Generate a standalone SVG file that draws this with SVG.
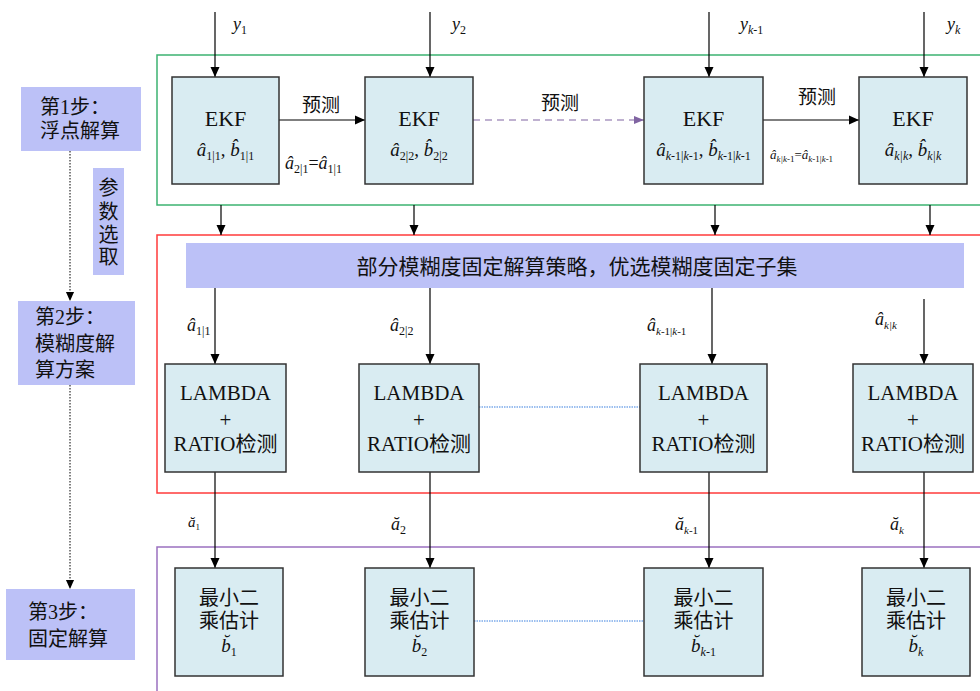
<svg xmlns="http://www.w3.org/2000/svg" width="980" height="691" viewBox="0 0 980 691">
<defs>
<marker id="arr" viewBox="0 0 10 10" refX="10" refY="5" markerWidth="10" markerHeight="10" markerUnits="userSpaceOnUse" orient="auto">
<path d="M0,0.5 L10,5 L0,9.5 Z" fill="#000"/>
</marker>
<marker id="arrP" viewBox="0 0 10 10" refX="10" refY="5" markerWidth="10" markerHeight="10" markerUnits="userSpaceOnUse" orient="auto">
<path d="M0,1 L10,5 L0,9 Z" fill="#8064a2"/>
</marker>
<marker id="arrS" viewBox="0 0 10 10" refX="10" refY="5" markerWidth="9" markerHeight="11" markerUnits="userSpaceOnUse" orient="auto">
<path d="M0,0.5 L10,5 L0,9.5 Z" fill="#000"/>
</marker>
</defs>
<style>
.box{fill:#d9ecf2;stroke:#333;stroke-width:1.5}
.lab{fill:#bcc1f7}
.t{font-family:"Liberation Serif","Noto Sans CJK SC",serif;font-size:21px;fill:#111;text-anchor:middle}
.t20{font-size:20px}
.t22{font-size:22px}
.cj{font-family:"Liberation Serif","Noto Sans CJK SC",serif;font-size:19px;fill:#111}
.st{font-family:"Liberation Serif","Noto Sans CJK SC",serif;font-size:20px;fill:#111}
.m{font-family:"Liberation Serif",serif;font-style:italic;fill:#111}
.s{font-style:normal;font-size:12px}
.sk{font-style:italic;font-size:12px}
.s11{font-size:11px}
.ln{stroke:#000;stroke-width:1.2;fill:none}
</style>
<rect width="980" height="691" fill="#fff"/>
<g id="frames">
<rect x="157" y="55" width="840" height="150" fill="none" stroke="#3cb371" stroke-width="1.5"/>
<rect x="157" y="235" width="840" height="258" fill="none" stroke="#ff3b3b" stroke-width="1.5"/>
<rect x="157" y="547" width="840" height="160" fill="none" stroke="#9b70c0" stroke-width="1.5"/>
</g>
<g id="connectors">
<line class="ln" x1="215" y1="12" x2="215" y2="77" marker-end="url(#arr)"/>
<line class="ln" x1="430" y1="12" x2="430" y2="77" marker-end="url(#arr)"/>
<line class="ln" x1="709" y1="12" x2="709" y2="77" marker-end="url(#arr)"/>
<line class="ln" x1="924" y1="12" x2="924" y2="77" marker-end="url(#arr)"/>
<line class="ln" x1="279" y1="120" x2="365" y2="120" marker-end="url(#arr)"/>
<line x1="473" y1="120" x2="644" y2="120" stroke="#8064a2" stroke-width="1.2" stroke-dasharray="7 5" marker-end="url(#arrP)"/>
<line class="ln" x1="763" y1="120" x2="859" y2="120" marker-end="url(#arr)"/>
<line class="ln" x1="221" y1="205" x2="221" y2="235" marker-end="url(#arr)"/>
<line class="ln" x1="414" y1="205" x2="414" y2="235" marker-end="url(#arr)"/>
<line class="ln" x1="715" y1="205" x2="715" y2="235" marker-end="url(#arr)"/>
<line class="ln" x1="930" y1="205" x2="930" y2="235" marker-end="url(#arr)"/>
<line class="ln" x1="215" y1="288" x2="215" y2="364" marker-end="url(#arr)"/>
<line class="ln" x1="430" y1="288" x2="430" y2="364" marker-end="url(#arr)"/>
<line class="ln" x1="712" y1="288" x2="712" y2="364" marker-end="url(#arr)"/>
<line class="ln" x1="924" y1="299" x2="924" y2="364" marker-end="url(#arr)"/>
<line x1="479" y1="407" x2="640" y2="407" stroke="#3a80e0" stroke-width="1.2" stroke-dasharray="1.5 1"/>
<line class="ln" x1="215" y1="472" x2="215" y2="568" marker-end="url(#arr)"/>
<line class="ln" x1="430" y1="472" x2="430" y2="568" marker-end="url(#arr)"/>
<line class="ln" x1="709" y1="472" x2="709" y2="568" marker-end="url(#arr)"/>
<line class="ln" x1="924" y1="472" x2="924" y2="568" marker-end="url(#arr)"/>
<line x1="474" y1="621" x2="644" y2="621" stroke="#3a80e0" stroke-width="1.2" stroke-dasharray="1.5 1"/>
<line x1="70" y1="151" x2="70" y2="301" stroke="#000" stroke-width="1" stroke-dasharray="1.5 1.5" marker-end="url(#arrS)"/>
<line x1="70" y1="385" x2="70" y2="589" stroke="#000" stroke-width="1" stroke-dasharray="1.5 1.5" marker-end="url(#arrS)"/>
</g>
<g id="conn-labels">
<text class="m" x="233" y="30" font-size="18">y<tspan class="s" dy="4">1</tspan></text>
<text class="m" x="452" y="30" font-size="18">y<tspan class="s" dy="4">2</tspan></text>
<text class="m" x="740" y="30" font-size="18">y<tspan class="sk" dy="4">k</tspan><tspan class="s">-1</tspan></text>
<text class="m" x="947" y="30" font-size="18">y<tspan class="sk" dy="4">k</tspan></text>
<text class="cj" x="302" y="112">预测</text>
<text class="cj" x="541" y="110">预测</text>
<text class="cj" x="798" y="104">预测</text>
<text class="m" x="285" y="169" font-size="18">â<tspan class="s" dy="4">2|1</tspan><tspan font-style="normal" dy="-4">=</tspan>â<tspan class="s" dy="4">1|1</tspan></text>
<text class="m" x="770" y="159" font-size="13">â<tspan font-size="9" dy="3">k|k</tspan><tspan font-size="9" font-style="normal">-1</tspan><tspan font-style="normal" dy="-3">=</tspan>â<tspan font-size="9" dy="3">k</tspan><tspan font-size="9" font-style="normal">-1|</tspan><tspan font-size="9">k</tspan><tspan font-size="9" font-style="normal">-1</tspan></text>
<text class="m" x="187" y="331" font-size="18">â<tspan class="s" dy="4">1|1</tspan></text>
<text class="m" x="390" y="331" font-size="18">â<tspan class="s" dy="4">2|2</tspan></text>
<text class="m" x="647" y="331" font-size="18">â<tspan class="sk s11" dy="4">k</tspan><tspan class="s s11">-1|</tspan><tspan class="sk s11">k</tspan><tspan class="s s11">-1</tspan></text>
<text class="m" x="875" y="325" font-size="18">â<tspan class="sk s11" dy="4">k|k</tspan></text>
<text class="m" x="188" y="527" font-size="15">ă<tspan font-style="normal" font-size="9" dy="3">1</tspan></text>
<text class="m" x="391" y="530" font-size="18">ă<tspan class="s" dy="4">2</tspan></text>
<text class="m" x="675" y="530" font-size="18">ă<tspan class="sk s11" dy="4">k</tspan><tspan class="s s11">-1</tspan></text>
<text class="m" x="890" y="530" font-size="18">ă<tspan class="sk s11" dy="4">k</tspan></text>
</g>
<g id="ekf1"><rect class="box" x="172" y="77" width="107" height="107"/>
<text class="t t22" x="225.5" y="126">EKF</text>
<text class="m" x="225.5" y="156" font-size="19" text-anchor="middle">â<tspan class="s" dy="4">1|1</tspan><tspan font-style="normal" dy="-4">, </tspan>b̂<tspan class="s" dy="4">1|1</tspan></text></g>
<g id="ekf2"><rect class="box" x="365" y="77" width="108" height="107"/>
<text class="t t22" x="419" y="126">EKF</text>
<text class="m" x="419" y="156" font-size="19" text-anchor="middle">â<tspan class="s" dy="4">2|2</tspan><tspan font-style="normal" dy="-4">, </tspan>b̂<tspan class="s" dy="4">2|2</tspan></text></g>
<g id="ekf3"><rect class="box" x="644" y="77" width="119" height="107"/>
<text class="t t22" x="703.5" y="126">EKF</text>
<text class="m" x="703.5" y="156" font-size="19" text-anchor="middle">â<tspan class="sk" dy="4">k</tspan><tspan class="s">-1|</tspan><tspan class="sk">k</tspan><tspan class="s">-1</tspan><tspan font-style="normal" dy="-4">, </tspan>b̂<tspan class="sk" dy="4">k</tspan><tspan class="s">-1|</tspan><tspan class="sk">k</tspan><tspan class="s">-1</tspan></text></g>
<g id="ekf4"><rect class="box" x="859" y="77" width="108" height="107"/>
<text class="t t22" x="913" y="126">EKF</text>
<text class="m" x="913" y="156" font-size="19" text-anchor="middle">â<tspan class="sk" dy="4">k|k</tspan><tspan font-style="normal" dy="-4">, </tspan>b̂<tspan class="sk" dy="4">k|k</tspan></text></g>
<g id="strategy"><rect class="lab" x="186" y="243" width="778" height="45"/>
<text class="t" x="577" y="274">部分模糊度固定解算策略，优选模糊度固定子集</text></g>
<g id="lam1"><rect class="box" x="165" y="364" width="121" height="108"/>
<text class="t" x="225.5" y="400">LAMBDA</text><text class="t" x="225.5" y="427">+</text><text class="t" x="225.5" y="451">RATIO检测</text></g>
<g id="lam2"><rect class="box" x="359" y="364" width="120" height="108"/>
<text class="t" x="419" y="400">LAMBDA</text><text class="t" x="419" y="427">+</text><text class="t" x="419" y="451">RATIO检测</text></g>
<g id="lam3"><rect class="box" x="640" y="364" width="127" height="108"/>
<text class="t" x="703.5" y="400">LAMBDA</text><text class="t" x="703.5" y="427">+</text><text class="t" x="703.5" y="451">RATIO检测</text></g>
<g id="lam4"><rect class="box" x="853" y="364" width="120" height="108"/>
<text class="t" x="913" y="400">LAMBDA</text><text class="t" x="913" y="427">+</text><text class="t" x="913" y="451">RATIO检测</text></g>
<g id="lsq1"><rect class="box" x="175" y="568" width="108" height="108"/>
<text class="t t20" x="229" y="605">最小二</text><text class="t t20" x="229" y="628">乘估计</text>
<text class="m" x="229" y="652" font-size="19" text-anchor="middle">b̆<tspan class="s" dy="4">1</tspan></text></g>
<g id="lsq2"><rect class="box" x="365" y="568" width="109" height="108"/>
<text class="t t20" x="419.5" y="605">最小二</text><text class="t t20" x="419.5" y="628">乘估计</text>
<text class="m" x="419.5" y="652" font-size="19" text-anchor="middle">b̆<tspan class="s" dy="4">2</tspan></text></g>
<g id="lsq3"><rect class="box" x="644" y="568" width="119" height="108"/>
<text class="t t20" x="703.5" y="605">最小二</text><text class="t t20" x="703.5" y="628">乘估计</text>
<text class="m" x="703.5" y="652" font-size="19" text-anchor="middle">b̆<tspan class="sk" dy="4">k</tspan><tspan class="s">-1</tspan></text></g>
<g id="lsq4"><rect class="box" x="862" y="568" width="108" height="108"/>
<text class="t t20" x="916" y="605">最小二</text><text class="t t20" x="916" y="628">乘估计</text>
<text class="m" x="916" y="652" font-size="19" text-anchor="middle">b̆<tspan class="sk" dy="4">k</tspan></text></g>
<g id="step1"><rect class="lab" x="21" y="87" width="120" height="64"/>
<text class="st" x="40" y="114">第1步：</text><text class="st" x="40" y="138">浮点解算</text></g>
<g id="param"><rect class="lab" x="93" y="168" width="31" height="107"/>
<text class="t t20" x="108.5" y="195">参</text><text class="t t20" x="108.5" y="219">数</text><text class="t t20" x="108.5" y="242">选</text><text class="t t20" x="108.5" y="264">取</text></g>
<g id="step2"><rect class="lab" x="18" y="301" width="117" height="84"/>
<text class="st" x="35" y="324">第2步：</text><text class="st" x="35" y="351">模糊度解</text><text class="st" x="35" y="377">算方案</text></g>
<g id="step3"><rect class="lab" x="6" y="589" width="129" height="71"/>
<text class="st" x="28" y="619">第3步：</text><text class="st" x="28" y="646">固定解算</text></g>
</svg>
